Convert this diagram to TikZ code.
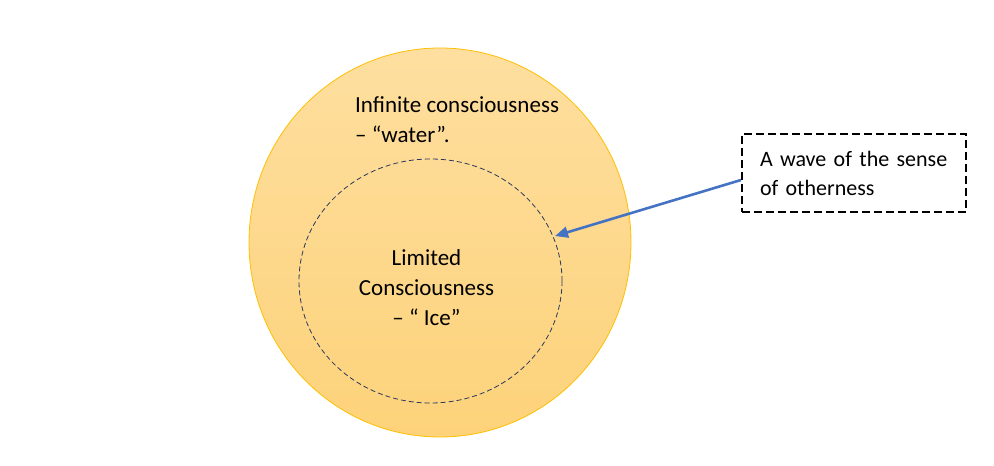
\documentclass[tikz,border=0pt]{standalone}
\usepackage{fontspec}
\setmainfont{Carlito}
\usetikzlibrary{calc,arrows.meta}
\definecolor{goldline}{rgb}{1.00, 0.75, 0.00}
\definecolor{goldtop}{rgb}{0.996, 0.875, 0.627}
\definecolor{goldbottom}{rgb}{0.992, 0.824, 0.478}
\definecolor{icenavy}{rgb}{0.16, 0.22, 0.36}
\definecolor{arrowblue}{rgb}{0.27, 0.45, 0.77}

\tikzset{
  label text/.style={font=\fontsize{23}{30}\selectfont, inner sep=0pt},
  wave box/.style={draw, dash pattern=on 8pt off 4pt, line width=2pt,
    font=\fontsize{22}{29}\selectfont, inner sep=0pt,
    minimum width=224pt, minimum height=78pt, text width=188pt, align=left}
}

\begin{document}
\begin{tikzpicture}[x=1pt, y=-1pt]
  \useasboundingbox (0,0) rectangle (994,466);

  \coordinate (water) at (440, 242.5);
  \coordinate (ice) at (430.5, 281);
  \coordinate (icetip) at (555, 236);

  \shade[top color=goldtop, bottom color=goldbottom, draw=goldline, line width=0.8pt]
    (water) ellipse [x radius=191, y radius=194.5];
  \draw[icenavy, line width=0.8pt, dash pattern=on 5pt off 3pt]
    (ice) ellipse [x radius=131.5, y radius=122];

  \node[label text, anchor=north west, align=left] (infinite) at (355, 96)
    {Infinite consciousness\\– “water”.};
  \node[label text, anchor=north, align=center] (limited) at (426.5, 249)
    {Limited\\Consciousness\\– “ Ice”};

  \node[wave box] (otherness) at (854, 173)
    {A wave of the sense\\of otherness};

  \draw[arrowblue, line width=2.6pt, -{Triangle[length=13pt, width=11pt]}]
    ($(otherness.west)+(0,7)$) -- (icetip);
\end{tikzpicture}
\end{document}
